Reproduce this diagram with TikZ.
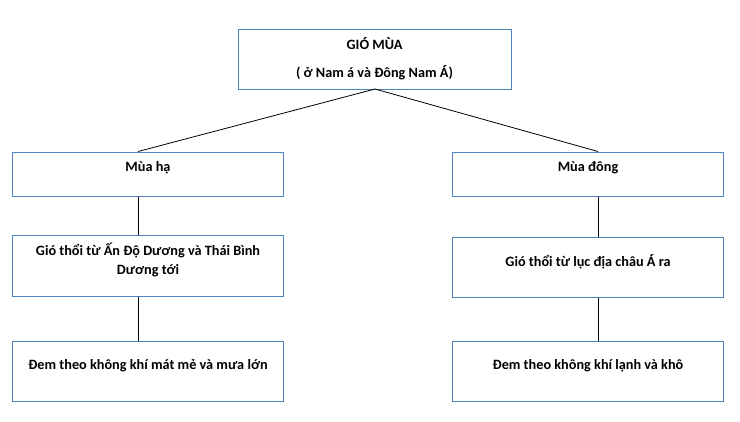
\documentclass[tikz,border=0pt]{standalone}
\usepackage{fontspec}
\setmainfont{Carlito}
\definecolor{boxblue}{HTML}{4F81BD}
\begin{document}
\begin{tikzpicture}[x=1bp,y=-1bp,
  box/.style={draw=boxblue,line width=1bp,fill=white,inner sep=0pt,anchor=north west},
  txt/.style={font=\bfseries\fontsize{14.3}{19}\selectfont,align=center,inner sep=0pt},
  conn/.style={draw=black,line width=0.8bp}]
\useasboundingbox (0,0) rectangle (740,421);
% top box
\node[box,minimum width=273bp,minimum height=60bp] (top) at (238,29) {};
\node[txt] (topa) at (374.5,44) {GIÓ MÙA};
\node[txt] (topb) at (374.5,73) {( ở Nam á và Đông Nam Á)};
% left column
\node[box,minimum width=271bp,minimum height=44bp] (l1) at (12,151.5) {};
\node[txt] (l1t) at ([yshift=6bp]l1.center) {Mùa hạ};
\node[box,minimum width=271bp,minimum height=61bp] (l2) at (12,235) {};
\node[txt] (l2t) at ([yshift=6bp]l2.center) {Gió thổi từ Ấn Độ Dương và Thái Bình\\Dương tới};
\node[box,minimum width=271bp,minimum height=60bp] (l3) at (12,341) {};
\node[txt] (l3t) at ([yshift=6bp]l3.center) {Đem theo không khí mát mẻ và mưa lớn};
% right column
\node[box,minimum width=271bp,minimum height=44bp] (r1) at (452,151.5) {};
\node[txt] (r1t) at ([yshift=6bp]r1.center) {Mùa đông};
\node[box,minimum width=271bp,minimum height=60bp] (r2) at (452,237) {};
\node[txt] (r2t) at ([yshift=6bp]r2.center) {Gió thổi từ lục địa châu Á ra};
\node[box,minimum width=271bp,minimum height=60bp] (r3) at (452,341) {};
\node[txt] (r3t) at ([yshift=6bp]r3.center) {Đem theo không khí lạnh và khô};
% connectors
\coordinate (apex) at (375,89);
\coordinate (lt) at (138,151.5);
\coordinate (rt) at (598,151.5);
\draw[conn] (apex) -- (lt);
\draw[conn] (apex) -- (rt);
\draw[conn] (l1.south -| lt) -- (l2.north -| lt);
\draw[conn] (l2.south -| lt) -- (l3.north -| lt);
\draw[conn] (r1.south -| rt) -- (r2.north -| rt);
\draw[conn] (r2.south -| rt) -- (r3.north -| rt);
\end{tikzpicture}
\end{document}
